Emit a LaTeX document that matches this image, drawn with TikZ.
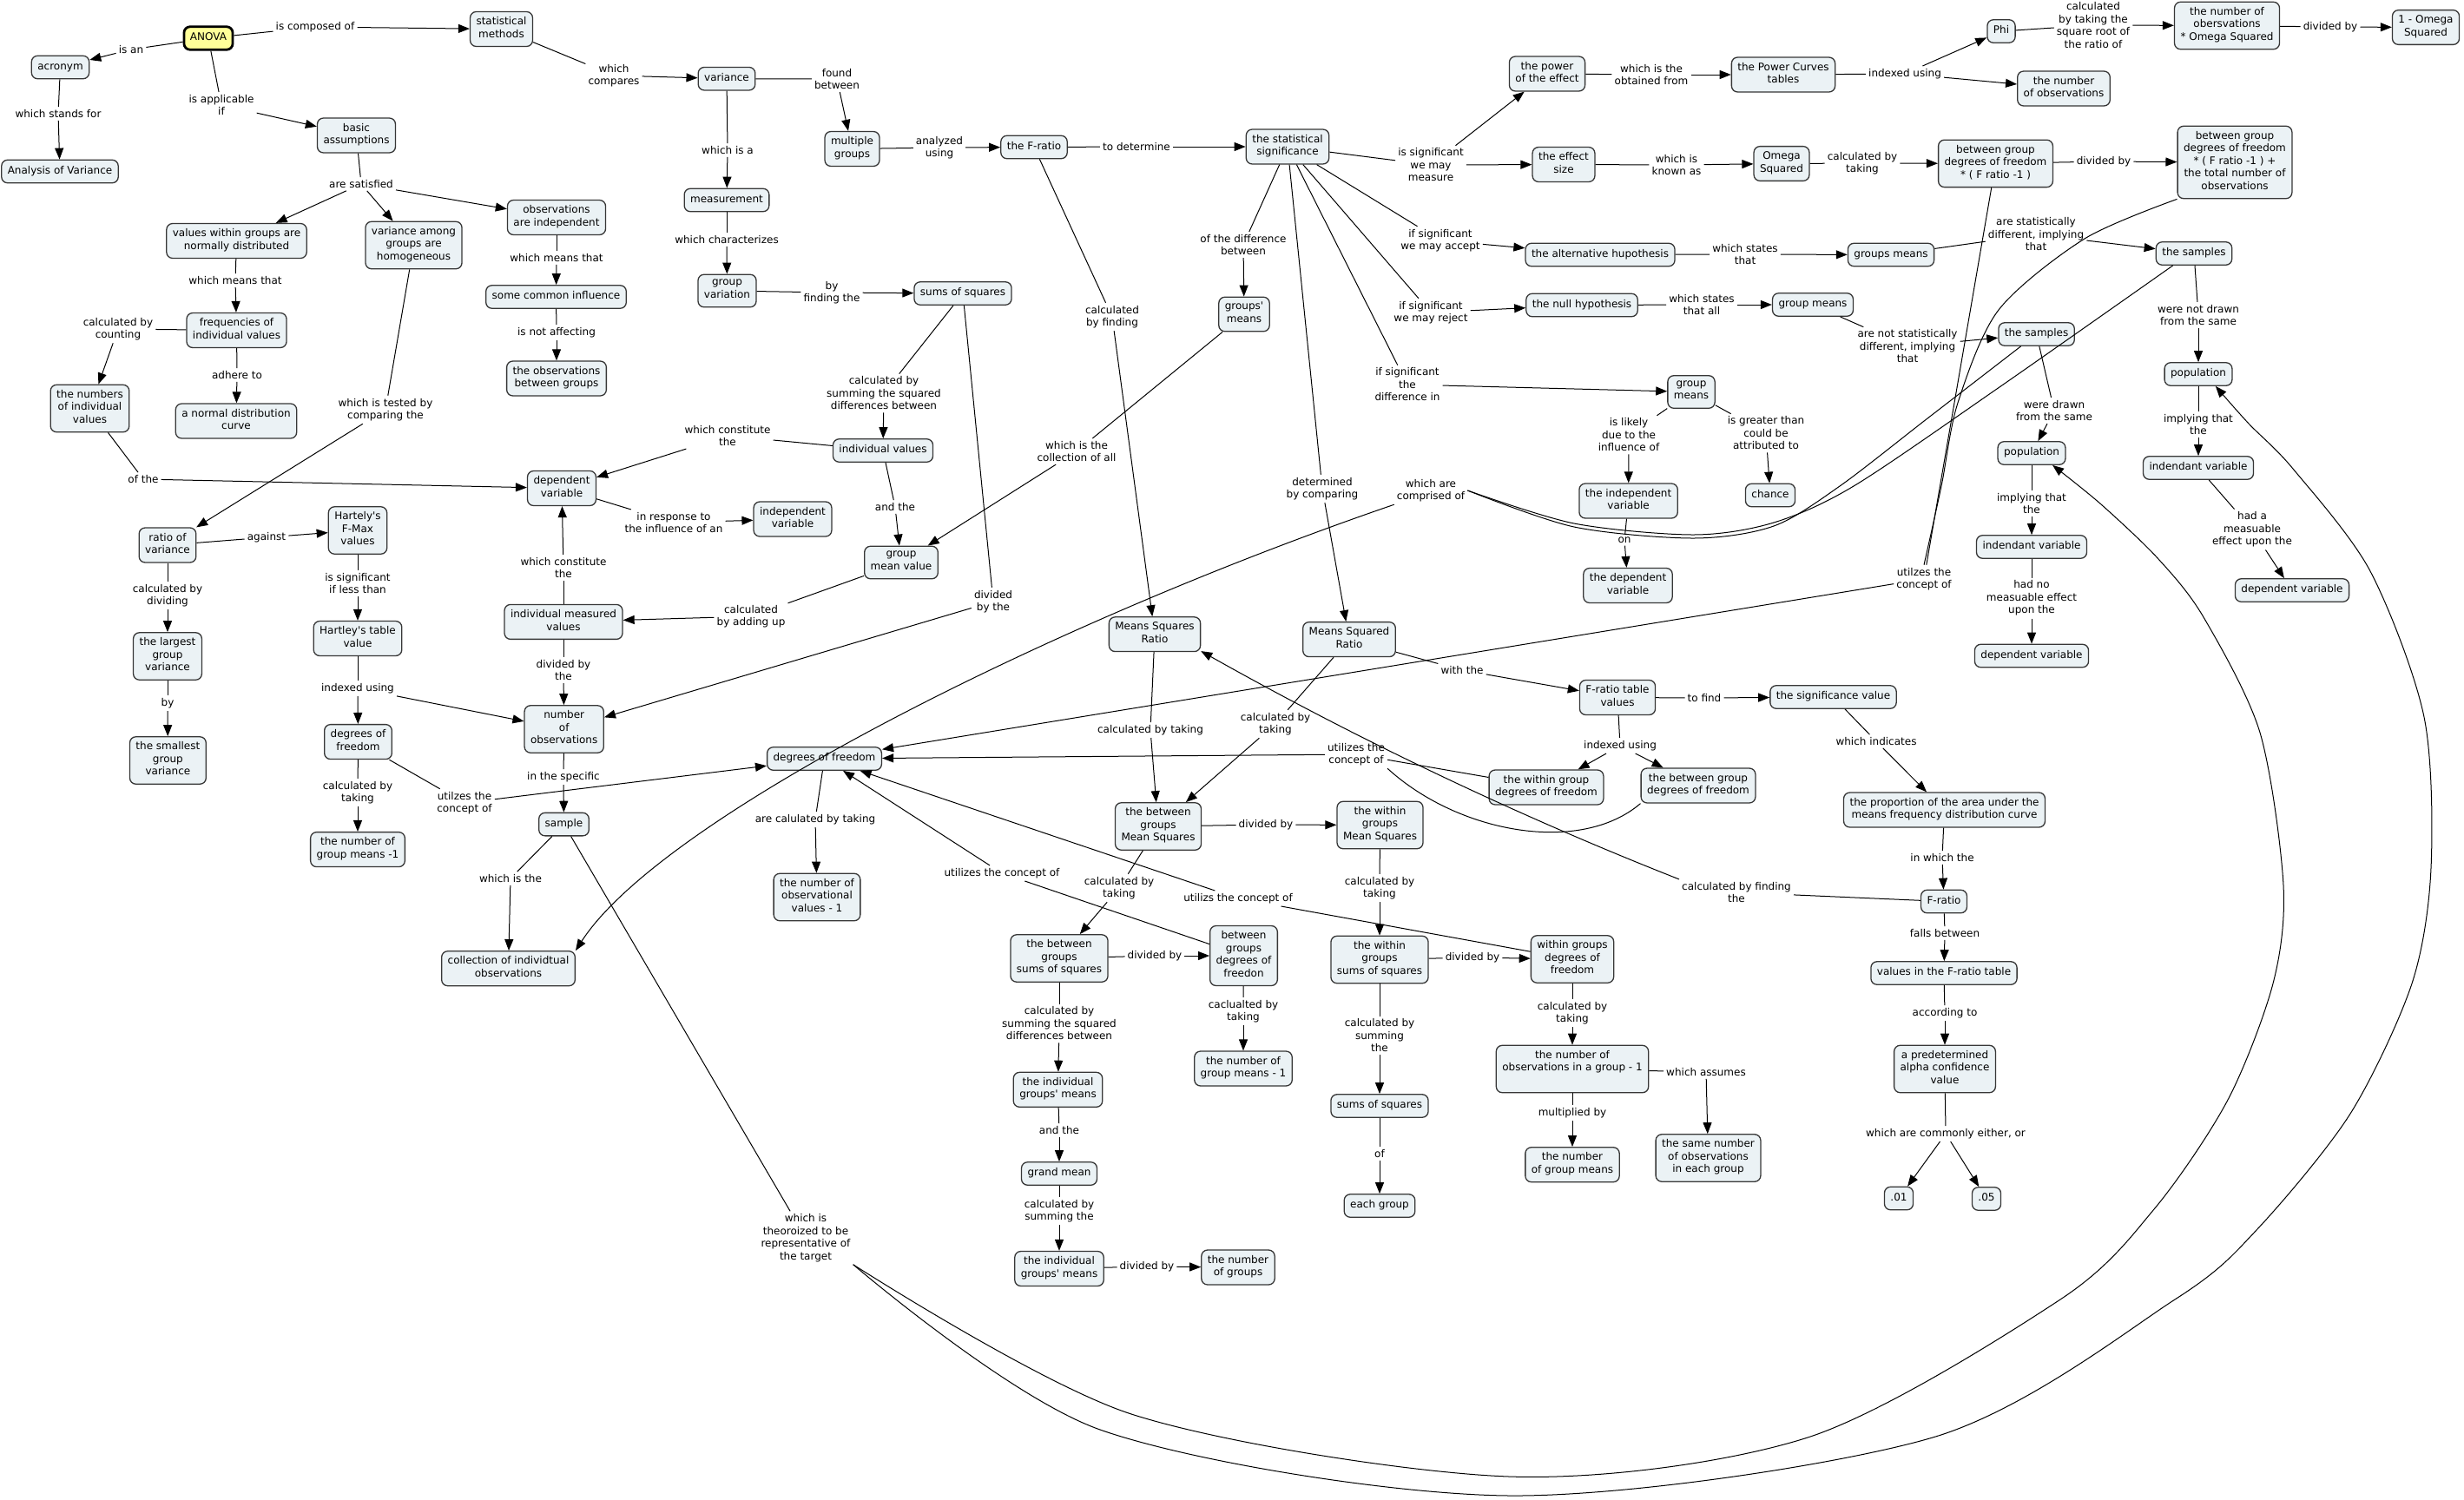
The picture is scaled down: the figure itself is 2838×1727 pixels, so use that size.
\documentclass[tikz,border=0pt]{standalone}
\usepackage{fontspec}
\setmainfont{DejaVu Sans}
\usetikzlibrary{arrows.meta}
\definecolor{nfill}{RGB}{235,242,245}
\definecolor{nline}{RGB}{55,55,55}
\definecolor{ayel}{RGB}{255,255,153}
\newcommand\mapfont{\fontsize{12pt}{14.5pt}\selectfont}
\newcommand\mconn[3]{\draw[ln] (#1) -- (#2); \draw[ar] (#2) -- (#3);}
\newcommand\ap{\textquotesingle}
\begin{document}
\begin{tikzpicture}[x=1pt,y=-1pt,
 cn/.style={draw=nline, line width=1.3pt, fill=nfill, rounded corners=7pt, align=center, font=\mapfont, inner xsep=7pt, inner ysep=6pt, minimum height=26pt, execute at begin node=\strut, execute at end node=\strut},
 lb/.style={align=center, font=\mapfont, inner sep=3pt},
 ln/.style={line width=1pt, draw=black},
 ar/.style={ln, -{Triangle[length=13pt,width=10pt]}}]
\fill[white] (0,0) rectangle (2838,1727);
\useasboundingbox (0,0) rectangle (2838,1727);

% ---------------- concept nodes ----------------
\node[cn, fill=ayel, draw=black, line width=2.8pt] (anova) at (240,44) {ANOVA};
\node[cn] (acr) at (69.5,77.5) {acronym};
\node[cn] (aov) at (69,197.5) {Analysis of Variance};
\node[cn] (stm) at (577.5,33.5) {statistical\\methods};
\node[cn] (basic) at (410.5,156) {basic\\assumptions};
\node[cn] (vwg) at (272.5,277.5) {values within groups are\\normally distributed};
\node[cn] (vag) at (476.5,282.5) {variance among\\groups are\\homogeneous};
\node[cn] (oai) at (641,250.5) {observations\\are independent};
\node[cn] (sci) at (640.5,342) {some common influence};
\node[cn] (obg) at (641,436) {the observations\\between groups};
\node[cn] (fiv) at (272.5,380.5) {frequencies of\\individual values};
\node[cn] (ndc) at (272,485) {a normal distribution\\curve};
\node[cn] (niv) at (103.5,470.5) {the numbers\\of individual\\values};
\node[cn] (var) at (837,90.7) {variance};
\node[cn] (mg) at (981.5,171.5) {multiple\\groups};
\node[cn] (meas) at (837,230.5) {measurement};
\node[cn] (fr) at (1191,169.5) {the F-ratio};
\node[cn] (gv) at (837.5,335) {group\\variation};
\node[cn] (ss) at (1109,338) {sums of squares};
\node[cn] (iv) at (1017,519) {individual values};
\node[cn] (ssig) at (1483,169) {the statistical\\significance};
\node[cn] (poe) at (1782,85) {the power\\of the effect};
\node[cn] (pct) at (2054,86) {the Power Curves\\tables};
\node[cn] (es) at (1801,189.5) {the effect\\size};
\node[cn] (omg) at (2052,188.5) {Omega\\Squared};
\node[cn] (gm1) at (1433,362) {groups\ap\\means};
\node[cn] (alt) at (1843,293.5) {the alternative hupothesis};
\node[cn] (nul) at (1822,351.5) {the null hypothesis};
\node[cn] (gmn) at (2088,351) {group means};
\node[cn] (gms) at (1948,451.5) {group\\means};
\node[cn] (phi) at (2305,36) {Phi};
\node[cn] (noo) at (2565,29.5) {the number of\\obersvations\\* Omega Squared};
\node[cn] (omo) at (2794,31.5) {1 - Omega\\Squared};
\node[cn] (nobs) at (2377,102) {the number\\of observations};
\node[cn] (bdf) at (2298.5,188.4) {between group\\degrees of freedom\\* ( F ratio -1 )};
\node[cn] (bdft) at (2574,187) {between group\\degrees of freedom\\* ( F ratio -1 ) +\\the total number of\\observations};
\node[cn] (grm) at (2178,293.5) {groups means};
\node[cn] (smpU) at (2527,292) {the samples};
\node[cn] (smpL) at (2345.6,385) {the samples};
\node[cn] (popR) at (2532,431) {population};
\node[cn] (popL) at (2340,522) {population};
\node[cn] (indR) at (2532,539) {indendant variable};
\node[cn] (indL) at (2340,630) {indendant variable};
\node[cn] (depL) at (2340,755.5) {dependent variable};
\node[cn] (depR) at (2640,680) {dependent variable};
\node[cn] (sigv) at (2111.5,803) {the significance value};
\node[cn] (prop) at (2239.5,933) {the proportion of the area under the\\means frequency distribution curve};
\node[cn] (frb) at (2239,1038.5) {F-ratio};
\node[cn] (vft) at (2239,1121) {values in the F-ratio table};
\node[cn] (alpha) at (2240,1231.5) {a predetermined\\alpha confidence\\value};
\node[cn] (p01) at (2187,1380.5) {.01};
\node[cn] (p05) at (2288,1381) {.05};
\node[cn] (indv) at (1875.6,577) {the independent\\variable};
\node[cn] (chance) at (2039,570.5) {chance};
\node[cn] (depv) at (1875,674.5) {the dependent\\variable};
\node[cn] (msqr) at (1554,736.6) {Means Squared\\Ratio};
\node[cn] (frt) at (1863,803.5) {F-ratio table\\values};
\node[cn] (wdfF) at (1781,907) {the within group\\degrees of freedom};
\node[cn] (bdfF) at (1956,905) {the between group\\degrees of freedom};
\node[cn] (wms) at (1589.5,950.5) {the within\\groups\\Mean Squares};
\node[cn] (indepv) at (913,598) {independent\\variable};
\node[cn] (gmv) at (1038,648) {group\\mean value};
\node[cn] (msr) at (1330,730.7) {Means Squares\\Ratio};
\node[cn] (dof) at (949.5,874) {degrees of freedom};
\node[cn] (novm1) at (941,1033.5) {the number of\\observational\\values - 1};
\node[cn] (bms) at (1334,952) {the between\\groups\\Mean Squares};
\node[cn] (depvar) at (647,562.5) {dependent\\variable};
\node[cn] (rov) at (193,628) {ratio of\\variance};
\node[cn] (hfm) at (412,611) {Hartely\ap s\\F-Max\\values};
\node[cn] (lgv) at (193,756) {the largest\\group\\variance};
\node[cn] (htv) at (412,735.5) {Hartley\ap s table\\value};
\node[cn] (imv) at (649,716.4) {individual measured\\values};
\node[cn] (sgv) at (193.4,876) {the smallest\\group\\variance};
\node[cn] (dofL) at (412.5,854.6) {degrees of\\freedom};
\node[cn] (nob) at (649.7,840) {number\\of\\observations};
\node[cn] (smp) at (649.5,949.6) {sample};
\node[cn] (ngm1) at (412,978.6) {the number of\\group means -1};
\node[cn] (coll) at (585.5,1115.7) {collection of individtual\\observations};
\node[cn] (bss) at (1220,1104) {the between\\groups\\sums of squares};
\node[cn] (igm1) at (1218.5,1255.3) {the individual\\groups\ap\ means};
\node[cn] (gmean) at (1220,1352) {grand mean};
\node[cn] (igm2) at (1220,1461.5) {the individual\\groups\ap\ means};
\node[cn] (nog) at (1426,1460) {the number\\of groups};
\node[cn] (bdfn) at (1432.5,1101) {between\\groups\\degrees of\\freedon};
\node[cn] (ngm1b) at (1432,1231) {the number of\\group means - 1};
\node[cn] (wss) at (1589,1105.5) {the within\\groups\\sums of squares};
\node[cn] (wdf) at (1811,1105) {within groups\\degrees of\\freedom};
\node[cn] (noig) at (1811,1231.5) {the number of\\observations in a group - 1\\\mbox{}};
\node[cn] (ssb) at (1589,1274) {sums of squares};
\node[cn] (ngm) at (1811,1341.7) {the number\\of group means};
\node[cn] (same) at (1967.5,1334) {the same number\\of observations\\in each group};
\node[cn] (eg) at (1589,1389) {each group};

% ---------------- linking phrases ----------------
\node[lb] (L1) at (151,57) {is an};
\node[lb] (L2) at (363,31) {is composed of};
\node[lb] (L3) at (67,131) {which stands for};
\node[lb] (L4) at (255,121) {is applicable\\if};
\node[lb] (L5) at (416,212) {are satisfied};
\node[lb] (L6) at (707,87) {which\\compares};
\node[lb] (L7) at (964,91) {found\\between};
\node[lb] (L8) at (838,173) {which is a};
\node[lb] (L9) at (1082,170) {analyzed\\using};
\node[lb] (L10) at (1309,169) {to determine};
\node[lb] (L11) at (837,276) {which characterizes};
\node[lb] (L12) at (958,337) {by\\finding the};
\node[lb] (L13) at (1281,365) {calculated\\by finding};
\node[lb] (L14) at (1018,453) {calculated by\\summing the squared\\differences between};
\node[lb] (L15) at (838,502) {which constitute\\the};
\node[lb] (L16) at (1240,520) {which is the\\collection of all};
\node[lb] (L17) at (271,323) {which means that};
\node[lb] (L18) at (641,297) {which means that};
\node[lb] (L19) at (641,383) {is not affecting};
\node[lb] (L20) at (136,379) {calculated by\\counting};
\node[lb] (L21) at (273,432) {adhere to};
\node[lb] (L22) at (444,472) {which is tested by\\comparing the};
\node[lb] (L23) at (165,552) {of the};
\node[lb] (L24) at (776,602) {in response to\\the influence of an};
\node[lb] (L25) at (1031,584) {and the};
\node[lb] (L26) at (865,710) {calculated\\by adding up};
\node[lb] (L27) at (1144,693) {divided\\by the};
\node[lb] (L28) at (307,619) {against};
\node[lb] (L29) at (193,686) {calculated by\\dividing};
\node[lb] (L30) at (412,672) {is significant\\if less than};
\node[lb] (L31) at (649,654) {which constitute\\the};
\node[lb] (L32) at (649,772) {divided by\\the};
\node[lb] (L33) at (193,810) {by};
\node[lb] (L34) at (412,793) {indexed using};
\node[lb] (L35) at (412,913) {calculated by\\taking};
\node[lb] (L36) at (535,925) {utilzes the\\concept of};
\node[lb] (L37) at (649,895) {in the specific};
\node[lb] (L38) at (588,1012) {which is the};
\node[lb] (L39) at (928,1426) {which is\\theoroized to be\\representative of\\the target};
\node[lb] (L40) at (1432,282) {of the difference\\between};
\node[lb] (L41) at (1648,190) {is significant\\we may\\measure};
\node[lb] (L42) at (1902,86) {which is the\\obtained from};
\node[lb] (L43) at (1931,190) {which is\\known as};
\node[lb] (L44) at (2194,85) {indexed using};
\node[lb] (L45) at (2411,29) {calculated\\by taking the\\square root of\\the ratio of};
\node[lb] (L46) at (2684,31) {divided by};
\node[lb] (L47) at (2145,188) {calculated by\\taking};
\node[lb] (L48) at (2423,186) {divided by};
\node[lb] (L49) at (1659,277) {if significant\\we may accept};
\node[lb] (L50) at (2010,293) {which states\\that};
\node[lb] (L51) at (1648,360) {if significant\\we may reject};
\node[lb] (L52) at (1960,351) {which states\\that all};
\node[lb] (L53) at (2345,270) {are statistically\\different, implying\\that};
\node[lb] (L54) at (2197,399) {are not statistically\\different, implying\\that};
\node[lb] (L55) at (1621,443) {if significant\\the\\difference in};
\node[lb] (L56) at (1876,501) {is likely\\due to the\\influence of};
\node[lb] (L57) at (2034,499) {is greater than\\could be\\attributed to};
\node[lb] (L58) at (2532,363) {were not drawn\\from the same};
\node[lb] (L59) at (2366,473) {were drawn\\from the same};
\node[lb] (L60) at (2532,489) {implying that\\the};
\node[lb] (L61) at (2340,580) {implying that\\the};
\node[lb] (L62) at (2340,689) {had no\\measuable effect\\upon the};
\node[lb] (L63) at (2594,610) {had a\\measuable\\effect upon the};
\node[lb] (L64) at (1523,563) {determined\\by comparing};
\node[lb] (L65) at (1648,565) {which are\\comprised of};
\node[lb] (L66) at (1871,622) {on};
\node[lb] (L67) at (1684,772) {with the};
\node[lb] (L68) at (1963,804) {to find};
\node[lb] (L69) at (1866,859) {indexed using};
\node[lb] (L70) at (1469,834) {calculated by\\taking};
\node[lb] (L71) at (1562,869) {utilizes the\\concept of};
\node[lb] (L72) at (1458,950) {divided by};
\node[lb] (L73) at (1589,1023) {calculated by\\taking};
\node[lb] (L74) at (2000,1028) {calculated by finding\\the};
\node[lb] (L75) at (2216,667) {utilzes the\\concept of};
\node[lb] (L76) at (2161,854) {which indicates};
\node[lb] (L77) at (2237,988) {in which the};
\node[lb] (L78) at (2240,1075) {falls between};
\node[lb] (L79) at (2240,1167) {according to};
\node[lb] (L80) at (2241,1306) {which are commonly either, or};
\node[lb] (L81) at (1325,841) {calculated by taking};
\node[lb] (L82) at (939,944) {are calulated by taking};
\node[lb] (L83) at (1154,1006) {utilizes the concept of};
\node[lb] (L84) at (1289,1023) {calculated by\\taking};
\node[lb] (L85) at (1426,1035) {utilizs the concept of};
\node[lb] (L86) at (1330,1101) {divided by};
\node[lb] (L87) at (1220,1179) {calculated by\\summing the squared\\differences between};
\node[lb] (L88) at (1220,1302) {and the};
\node[lb] (L89) at (1220,1395) {calculated by\\summing the};
\node[lb] (L90) at (1321,1459) {divided by};
\node[lb] (L91) at (1432,1165) {caclualted by\\taking};
\node[lb] (L92) at (1696,1103) {divided by};
\node[lb] (L93) at (1589,1193) {calculated by\\summing\\the};
\node[lb] (L94) at (1811,1167) {calculated by\\taking};
\node[lb] (L95) at (1965,1235) {which assumes};
\node[lb] (L96) at (1811,1282) {multiplied by};
\node[lb] (L97) at (1589,1329) {of};

% ---------------- connectors ----------------
\mconn{anova}{L1}{acr}
\mconn{anova}{L2}{stm}
\mconn{acr}{L3}{aov}
\mconn{anova}{L4}{basic}
\draw[ln] (basic) -- (L5); \draw[ar] (L5) -- (vwg); \draw[ar] (L5) -- (vag); \draw[ar] (L5) -- (oai);
\mconn{stm}{L6}{var}
\mconn{var}{L7}{mg}
\mconn{var}{L8}{meas}
\mconn{meas}{L11}{gv}
\mconn{gv}{L12}{ss}
\mconn{mg}{L9}{fr}
\mconn{fr}{L10}{ssig}
\mconn{fr}{L13}{msr}
\mconn{ss}{L14}{iv}
\mconn{ss}{L27}{nob}
\mconn{iv}{L15}{depvar}
\mconn{iv}{L25}{gmv}
\mconn{gm1}{L16}{gmv}
\mconn{gmv}{L26}{imv}
\mconn{vwg}{L17}{fiv}
\mconn{oai}{L18}{sci}
\mconn{sci}{L19}{obg}
\mconn{fiv}{L20}{niv}
\mconn{fiv}{L21}{ndc}
\mconn{vag}{L22}{rov}
\mconn{niv}{L23}{depvar}
\mconn{depvar}{L24}{indepv}
\mconn{rov}{L28}{hfm}
\mconn{rov}{L29}{lgv}
\mconn{hfm}{L30}{htv}
\mconn{imv}{L31}{depvar}
\mconn{imv}{L32}{nob}
\mconn{lgv}{L33}{sgv}
\draw[ln] (htv) -- (L34); \draw[ar] (L34) -- (dofL); \draw[ar] (L34) -- (nob);
\mconn{dofL}{L35}{ngm1}
\mconn{dofL}{L36}{dof}
\mconn{nob}{L37}{smp}
\mconn{smp}{L38}{coll}
\draw[ln] (smp) -- (L39);
\mconn{ssig}{L40}{gm1}
\draw[ln] (ssig) -- (L41); \draw[ar] (L41) -- (poe); \draw[ar] (L41) -- (es);
\mconn{poe}{L42}{pct}
\draw[ln] (pct) -- (L44); \draw[ar] (L44) -- (phi); \draw[ar] (L44) -- (nobs);
\mconn{phi}{L45}{noo}
\mconn{noo}{L46}{omo}
\mconn{es}{L43}{omg}
\mconn{omg}{L47}{bdf}
\mconn{bdf}{L48}{bdft}
\mconn{ssig}{L49}{alt}
\mconn{alt}{L50}{grm}
\mconn{grm}{L53}{smpU}
\mconn{ssig}{L51}{nul}
\mconn{nul}{L52}{gmn}
\mconn{gmn}{L54}{smpL}
\mconn{smpU}{L58}{popR}
\mconn{smpL}{L59}{popL}
\mconn{popR}{L60}{indR}
\mconn{indR}{L63}{depR}
\mconn{popL}{L61}{indL}
\mconn{indL}{L62}{depL}
\mconn{ssig}{L55}{gms}
\mconn{gms}{L56}{indv}
\mconn{gms}{L57}{chance}
\mconn{indv}{L66}{depv}
\mconn{ssig}{L64}{msqr}
\mconn{msr}{L81}{bms}
\mconn{msqr}{L70}{bms}
\mconn{msqr}{L67}{frt}
\mconn{frt}{L68}{sigv}
\draw[ln] (frt) -- (L69); \draw[ar] (L69) -- (wdfF); \draw[ar] (L69) -- (bdfF);
\draw[ln] (wdfF) -- (L71);
\draw[ln] (L71.south east) .. controls (1680,960) and (1820,985) .. (bdfF.south west);
\draw[ar] (L71) -- (dof);
\mconn{bms}{L72}{wms}
\mconn{wms}{L73}{wss}
\draw[ln] (frb) -- (L74);
\draw[ar] (L74.north west) .. controls (1749,940) and (1566,853) .. (msr.-20);
\draw[ln] (bdf) -- (L75);
\coordinate (bt0) at (bdft.south west);
\coordinate (lt0) at (L75.north);
\draw[ln] plot[smooth] coordinates {(bt0) (2401,275) (2302,357) (2255,464) (2236,560) (lt0)};
\draw[ar] (L75) -- (dof);
\mconn{sigv}{L76}{prop}
\mconn{prop}{L77}{frb}
\mconn{frb}{L78}{vft}
\mconn{vft}{L79}{alpha}
\draw[ln] (alpha) -- (L80); \draw[ar] (L80) -- (p01); \draw[ar] (L80) -- (p05);
\mconn{dof}{L82}{novm1}
\mconn{bdfn}{L83}{dof}
\mconn{bms}{L84}{bss}
\mconn{wdf}{L85}{dof}
\mconn{bss}{L86}{bdfn}
\mconn{bss}{L87}{igm1}
\mconn{igm1}{L88}{gmean}
\mconn{gmean}{L89}{igm2}
\mconn{igm2}{L90}{nog}
\mconn{bdfn}{L91}{ngm1b}
\mconn{wss}{L92}{wdf}
\mconn{wss}{L93}{ssb}
\mconn{ssb}{L97}{eg}
\mconn{wdf}{L94}{noig}
\mconn{noig}{L95}{same}
\mconn{noig}{L96}{ngm}

% samples -> which are comprised of -> collection
\coordinate (sU) at ([xshift=20pt]smpU.south west);
\coordinate (sL) at ([xshift=-18pt]smpL.south);
\coordinate (cE) at (L65.east);
\draw[ln] plot[smooth] coordinates {(sU) (2300,448) (2135,560) (2043,602) (1951,616) (1813,603) (cE)};
\draw[ln] plot[smooth] coordinates {(sL) (2220,482) (2119,560) (2043,606) (1951,620) (1813,607) (cE)};
\draw[ar] (L65.south west) .. controls (1207,718) and (761,943) .. (coll.north east);

% sample -> theorized -> populations
\coordinate (tS) at (L39.south east);
\coordinate (pL) at (popL.-30);
\coordinate (pR) at (popR.-35);
\draw[ar] plot[smooth] coordinates {(tS) (1303,1629) (1738,1701) (2082,1656) (2373,1497) (2481,1393) (2566,1267) (2618,1133) (2630,1020) (2603,844) (2538,711) (2486,644) (2420,581) (pL)};
\draw[ar] plot[smooth] coordinates {(tS) (1267,1647) (1738,1723) (2226,1656) (2505,1497) (2599,1417) (2707,1283) (2778,1133) (2800,1000) (2792,826) (2730,658) (2641,540) (2590,488) (pR)};
\end{tikzpicture}
\end{document}
